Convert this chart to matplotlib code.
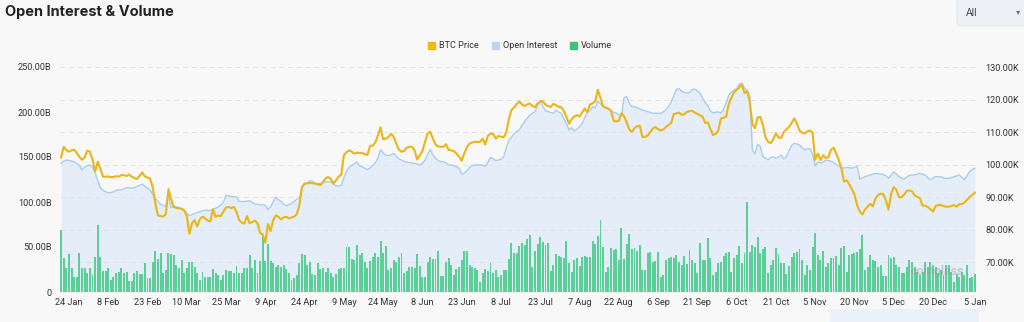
import matplotlib
matplotlib.use("Agg")
import matplotlib.pyplot as plt
import matplotlib.transforms as mtransforms
from matplotlib.patches import Patch, FancyBboxPatch, Rectangle
from matplotlib.lines import Line2D
from matplotlib.ticker import FuncFormatter, FixedLocator
import pandas as pd

# ---- data (daily, from 21 Jan 2025) ----
start_date = "2025-01-21"

# BTC price, thousands of USD
btc_price_k = [
    102.2, 105.5, 104.5, 104.0, 104.4, 104.6, 103.6, 102.4, 101.5, 102.2,
    104.3, 104.0, 101.6, 97.9, 100.9, 98.8, 96.3, 96.3, 96.4, 96.2,
    96.2, 96.5, 96.3, 96.8, 96.8, 96.5, 97.0, 96.3, 95.9, 95.6,
    96.6, 97.6, 96.4, 96.0, 95.8, 93.0, 88.0, 84.4, 84.2, 84.1,
    84.8, 92.5, 89.5, 87.0, 86.7, 86.6, 86.5, 86.0, 84.2, 78.8,
    82.0, 83.0, 81.0, 83.3, 84.0, 83.5, 82.8, 82.6, 86.3, 84.0,
    84.4, 84.2, 85.6, 86.9, 87.0, 86.7, 87.0, 85.5, 83.0, 82.2,
    81.9, 84.2, 82.0, 82.4, 82.8, 82.0, 79.0, 78.6, 76.0, 81.8,
    79.6, 83.0, 84.4, 84.0, 83.2, 83.8, 84.0, 83.5, 83.8, 84.0,
    84.8, 87.5, 93.0, 94.2, 94.3, 94.4, 94.3, 94.2, 94.0, 93.7,
    94.6, 95.8, 96.2, 95.6, 94.2, 95.2, 96.3, 96.9, 102.9, 103.8,
    104.4, 104.0, 103.4, 103.7, 103.6, 103.6, 103.2, 103.0, 105.8, 105.8,
    106.8, 109.0, 111.5, 107.8, 108.0, 108.5, 109.5, 108.6, 106.5, 104.6,
    104.0, 104.2, 105.2, 105.5, 105.5, 104.4, 101.6, 102.8, 104.2, 107.0,
    109.6, 110.1, 108.0, 106.2, 105.6, 105.5, 105.5, 106.3, 104.5, 104.4,
    104.2, 103.4, 102.5, 101.2, 103.5, 105.3, 106.5, 106.8, 107.0, 107.0,
    107.0, 108.0, 106.2, 108.9, 109.5, 109.5, 108.0, 108.8, 108.6, 108.4,
    109.8, 114.0, 116.8, 117.6, 118.6, 119.4, 118.5, 118.0, 118.5, 118.8,
    118.0, 117.7, 118.8, 119.4, 119.5, 118.4, 118.0, 117.7, 118.7, 118.3,
    117.7, 117.7, 116.5, 114.7, 112.6, 114.0, 114.8, 115.2, 114.8, 116.0,
    117.2, 116.2, 118.5, 118.8, 119.5, 123.0, 120.5, 118.0, 117.5, 117.2,
    116.6, 113.5, 113.3, 113.5, 115.8, 114.9, 113.0, 110.8, 110.1, 111.2,
    111.8, 112.0, 108.5, 108.5, 108.9, 110.0, 111.1, 111.6, 110.9, 110.5,
    110.8, 111.6, 112.2, 112.8, 115.6, 115.7, 116.0, 115.3, 115.5, 116.2,
    116.4, 116.6, 116.0, 115.6, 115.2, 114.7, 112.8, 113.0, 111.0, 109.1,
    109.5, 110.5, 114.2, 114.4, 114.7, 118.7, 120.5, 122.3, 122.9, 123.8,
    124.6, 122.0, 122.6, 119.5, 112.5, 111.2, 114.5, 114.7, 112.3, 108.5,
    107.0, 106.6, 107.8, 109.7, 108.3, 108.2, 110.0, 110.8, 111.6, 112.8,
    114.2, 112.7, 110.5, 109.8, 109.6, 110.2, 110.5, 109.8, 101.5, 103.4,
    101.4, 102.9, 102.1, 102.2, 104.6, 105.2, 103.6, 101.4, 98.9, 94.8,
    95.2, 94.0, 92.5, 90.8, 87.6, 85.7, 84.7, 86.2, 87.1, 88.0,
    87.2, 89.5, 90.7, 91.1, 91.0, 89.0, 86.2, 91.0, 93.1, 92.3,
    90.0, 90.0, 90.8, 92.0, 92.1, 91.8, 90.6, 90.1, 89.7, 87.4,
    87.4, 87.0, 86.3, 85.6, 87.3, 87.6, 87.6, 87.3, 87.1, 87.1,
    87.3, 87.6, 87.1, 87.9, 87.9, 88.4, 89.2, 90.1, 90.7, 91.4,
]

# Open interest, billions of USD
open_interest_b = [
    143.0, 145.5, 146.7, 146.0, 145.5, 144.2, 143.0, 140.5, 135.5, 138.5,
    140.5, 141.0, 139.0, 132.0, 124.0, 115.8, 113.0, 111.5, 110.0, 110.5,
    111.2, 113.0, 113.5, 113.4, 114.5, 116.0, 115.8, 115.3, 116.0, 117.2,
    118.5, 119.8, 117.5, 115.5, 113.4, 108.5, 104.0, 100.5, 97.5, 96.0,
    95.0, 107.0, 93.5, 95.2, 95.0, 93.8, 92.5, 90.0, 87.5, 85.0,
    86.0, 87.3, 88.3, 89.2, 90.0, 91.0, 90.8, 90.4, 92.0, 93.0,
    94.5, 96.5, 100.0, 107.5, 106.8, 106.0, 106.0, 105.5, 101.0, 100.4,
    100.4, 100.8, 101.5, 99.5, 98.0, 97.5, 96.7, 96.7, 96.5, 91.5,
    94.5, 100.0, 105.5, 102.5, 100.6, 97.5, 95.8, 97.0, 98.5, 100.5,
    103.0, 104.0, 117.5, 119.5, 121.0, 123.5, 123.0, 120.5, 120.2, 120.7,
    121.5, 122.5, 122.6, 122.6, 120.0, 117.8, 117.8, 118.5, 127.0, 134.0,
    138.5, 140.5, 142.5, 144.5, 140.0, 139.0, 137.5, 136.0, 138.0, 140.5,
    143.5, 148.5, 158.0, 154.5, 152.0, 151.5, 152.5, 154.0, 151.0, 147.8,
    146.5, 145.2, 144.3, 143.8, 143.4, 143.0, 142.0, 141.2, 143.0, 146.5,
    153.0, 158.5, 152.0, 148.6, 146.0, 145.0, 144.9, 143.5, 141.3, 141.2,
    140.3, 139.2, 137.5, 131.0, 132.0, 134.5, 138.5, 140.5, 141.1, 141.2,
    141.2, 141.0, 139.5, 144.0, 149.7, 148.0, 146.0, 146.8, 147.5, 150.0,
    160.0, 168.5, 172.0, 176.0, 178.3, 180.0, 185.0, 189.3, 193.0, 196.5,
    198.5, 200.4, 207.5, 213.0, 206.0, 201.5, 200.4, 199.5, 198.6, 202.0,
    200.0, 198.6, 193.0, 187.0, 180.0, 182.5, 179.0, 181.0, 183.7, 187.0,
    194.0, 199.5, 201.5, 206.0, 204.5, 212.0, 209.0, 206.0, 205.0, 203.8,
    201.3, 199.8, 198.8, 197.0, 195.0, 216.0, 217.1, 210.0, 206.0, 206.0,
    204.5, 203.5, 202.3, 201.3, 200.4, 199.5, 198.6, 198.6, 198.6, 198.6,
    200.0, 202.5, 206.0, 211.0, 218.0, 225.0, 226.0, 223.0, 222.0, 221.0,
    221.5, 225.0, 225.5, 223.5, 221.0, 215.5, 210.5, 207.0, 201.0, 199.0,
    199.8, 200.0, 199.0, 203.0, 210.0, 219.0, 222.0, 224.5, 226.0, 231.0,
    232.0, 226.5, 224.5, 218.0, 158.0, 153.5, 164.0, 162.0, 151.0, 148.5,
    147.0, 149.5, 150.0, 148.8, 150.0, 152.0, 148.0, 150.0, 157.0, 162.5,
    165.2, 164.5, 163.4, 160.5, 157.8, 159.0, 159.2, 153.5, 140.0, 144.5,
    143.5, 144.0, 146.5, 146.0, 145.2, 144.0, 141.5, 140.0, 137.8, 137.7,
    138.5, 138.2, 137.6, 138.5, 140.0, 125.5, 126.5, 128.0, 129.0, 130.0,
    131.0, 131.9, 131.5, 131.2, 130.6, 129.0, 126.5, 130.0, 133.5, 131.0,
    128.3, 126.5, 125.3, 127.5, 129.8, 130.0, 130.0, 131.0, 131.9, 131.0,
    130.0, 127.0, 124.6, 126.5, 128.2, 128.2, 128.0, 126.6, 126.3, 126.3,
    127.0, 128.0, 129.0, 130.0, 127.5, 124.8, 129.5, 134.0, 136.0, 137.5,
]

# Trading volume, billions of USD
volume_b = [
    68.9, 37.4, 26.3, 42.2, 26.3, 16.3, 16.3, 43.7, 26.3, 26.3,
    20.7, 26.3, 18.9, 39.3, 74.1, 39.3, 23.3, 23.3, 26.3, 13.3,
    17.0, 20.7, 22.6, 27.0, 20.7, 22.6, 12.6, 12.6, 20.7, 23.7,
    19.6, 20.0, 32.6, 15.2, 15.2, 33.0, 45.9, 36.3, 43.0, 20.7,
    24.4, 43.7, 41.9, 41.1, 30.0, 26.3, 35.6, 20.7, 26.3, 33.7,
    33.7, 28.1, 20.7, 13.3, 22.6, 17.0, 17.0, 17.0, 25.2, 20.7,
    18.9, 13.3, 18.9, 24.4, 23.3, 23.7, 21.5, 28.9, 21.5, 20.7,
    26.3, 26.3, 41.1, 26.3, 35.6, 21.5, 34.8, 61.5, 34.8, 53.3,
    34.8, 31.9, 28.1, 30.0, 27.4, 30.0, 25.2, 20.7, 13.3, 15.2,
    18.9, 31.9, 41.9, 41.1, 30.0, 33.0, 20.0, 18.9, 31.9, 25.2,
    26.3, 22.0, 26.3, 20.7, 17.0, 20.0, 25.2, 26.3, 26.3, 50.4,
    49.6, 36.3, 35.6, 52.2, 41.1, 43.0, 33.0, 26.3, 34.8, 39.3,
    43.0, 39.3, 57.0, 43.0, 51.1, 24.4, 26.3, 35.6, 33.7, 38.5,
    43.0, 20.7, 23.3, 27.4, 27.4, 26.3, 42.2, 28.9, 17.0, 17.0,
    33.7, 39.3, 36.3, 36.3, 45.9, 18.1, 18.1, 33.7, 38.1, 30.0,
    18.9, 25.2, 28.0, 35.6, 45.9, 45.9, 30.0, 28.1, 26.3, 24.4,
    11.5, 20.7, 25.2, 23.7, 32.6, 20.7, 24.4, 17.0, 18.9, 24.4,
    24.4, 36.3, 54.1, 43.0, 43.0, 51.5, 54.8, 52.2, 58.5, 63.4,
    28.2, 45.6, 53.0, 60.8, 56.0, 52.2, 54.1, 23.4, 30.0, 41.9,
    40.0, 39.3, 37.4, 56.7, 31.9, 22.6, 35.6, 37.4, 29.3, 38.5,
    40.0, 39.3, 38.5, 56.7, 53.0, 62.6, 80.0, 50.4, 22.6, 28.2,
    48.5, 46.7, 47.8, 35.6, 70.8, 36.3, 53.0, 64.1, 47.8, 48.5,
    45.6, 52.2, 24.5, 24.5, 43.0, 44.1, 33.7, 34.8, 44.8, 17.1,
    18.9, 35.6, 37.4, 38.5, 38.2, 41.1, 33.7, 30.0, 40.4, 30.8,
    46.7, 35.6, 31.9, 20.8, 54.1, 35.6, 35.6, 59.7, 37.4, 18.9,
    22.6, 31.9, 33.7, 40.0, 43.0, 44.1, 22.6, 37.4, 41.1, 51.5,
    31.9, 43.7, 99.7, 44.1, 52.2, 49.7, 61.5, 43.0, 47.8, 50.4,
    20.8, 30.0, 35.6, 49.3, 41.9, 32.6, 32.6, 19.7, 28.9, 39.3,
    43.0, 44.8, 47.8, 35.6, 18.9, 30.0, 24.5, 49.7, 65.2, 41.1,
    35.6, 45.6, 28.2, 31.9, 37.4, 38.2, 40.0, 30.0, 49.3, 51.1,
    22.6, 41.1, 41.9, 43.0, 44.1, 47.8, 63.4, 24.5, 28.2, 41.1,
    35.6, 34.5, 28.2, 30.0, 18.2, 18.2, 41.1, 38.2, 39.3, 30.0,
    28.2, 20.8, 20.8, 28.2, 35.6, 33.7, 28.2, 22.6, 18.9, 22.6,
    33.0, 28.2, 33.7, 30.0, 28.2, 20.8, 24.5, 18.9, 30.0, 30.0,
    21.9, 10.8, 19.7, 17.1, 21.9, 18.9, 30.0, 15.2, 17.1, 19.7,
]

# axis ticks
tick_dates = list(pd.date_range("2025-01-24", "2025-12-20", freq="15D")) + [pd.Timestamp("2026-01-05")]
left_ticks = [0, 50, 100, 150, 200, 250]
right_ticks = [70000, 80000, 90000, 100000, 110000, 120000, 130000]

# ---- styling ----
BG = "#f8f8f8"
PRICE_C = "#ecb516"
OI_LINE_C = "#a8cdee"
OI_FILL_C = "#e5eef8"
VOL_C = "#5ccf98"
TXT = "#333333"
FONT = "Roboto"

dates = pd.date_range(start_date, periods=len(btc_price_k), freq="D")
price = [p * 1000 for p in btc_price_k]

fig = plt.figure(figsize=(10.24, 3.22), dpi=100, facecolor=BG)
axv = fig.add_axes([60 / 1024, 30 / 322, 916 / 1024, 225 / 322])
axv.set_facecolor("none")
axp = axv.twinx()

# open interest area + volume bars (left axis)
axv.fill_between(dates, open_interest_b, 0, color=OI_FILL_C, lw=0, zorder=1)
axv.bar(dates, volume_b, width=0.74, color=VOL_C, lw=0, zorder=3)
axv.plot(dates, open_interest_b, color=OI_LINE_C, lw=1.0, zorder=4)

axv.set_ylim(0, 250)
axp.set_ylim(60900, 130000)
axv.set_xlim(dates[0] - pd.Timedelta(hours=10), dates[-1] + pd.Timedelta(hours=10))

# dashed grid at the price ticks, kept under the bars
grid_tr = mtransforms.blended_transform_factory(axv.transAxes, axp.transData)
for v in right_ticks:
    axv.add_line(Line2D([0, 1], [v, v], transform=grid_tr, color="#e3e3e3",
                        lw=0.7, ls=(0, (5, 4)), zorder=2))

# BTC price (right axis)
axp.plot(dates, price, color=PRICE_C, lw=1.5, zorder=5, solid_joinstyle="round")

# ticks and labels
axv.yaxis.set_major_locator(FixedLocator(left_ticks))
axv.yaxis.set_major_formatter(FuncFormatter(lambda v, _: "0" if v == 0 else f"{v:.2f}B"))
axp.yaxis.set_major_locator(FixedLocator(right_ticks))
axp.yaxis.set_major_formatter(FuncFormatter(lambda v, _: f"{v / 1000:.2f}K"))
axv.set_xticks(tick_dates)
axv.set_xticklabels([f"{d.day} {d.strftime('%b')}" for d in tick_dates])

for ax in (axv, axp):
    for s in ax.spines.values():
        s.set_visible(False)
    ax.tick_params(length=0, labelsize=6.6, labelcolor=TXT)
    for lab in ax.get_xticklabels() + ax.get_yticklabels():
        lab.set_fontfamily(FONT)
axv.tick_params(axis="y", pad=6)
axp.tick_params(axis="y", pad=7)
axv.tick_params(axis="x", pad=4)

# title
fig.text(5 / 1024, 1 - 12 / 322, "Open Interest & Volume", fontsize=10.5,
         fontweight="bold", color="#222222", family="Inter", va="center", ha="left")

# legend
handles = [Patch(color="#f0b90b", label="BTC Price"),
           Patch(color="#bcd6f2", label="Open Interest"),
           Patch(color="#3fc27a", label="Volume")]
fig.legend(handles=handles, loc="center", bbox_to_anchor=(0.508, 1 - 46 / 322), ncol=3,
           frameon=False, prop={"family": FONT, "size": 6.6}, labelcolor=TXT,
           handlelength=0.75, handleheight=0.75, handletextpad=0.45, columnspacing=1.4)

# range selector in the top-right corner
px = mtransforms.IdentityTransform()
fig.patches.append(FancyBboxPatch((957, 322 - 26), 90, 40,
                                  boxstyle="round,pad=0,rounding_size=5",
                                  transform=px, facecolor="#edf1f5",
                                  edgecolor="#e3e8ee", lw=0.8, figure=fig))
fig.text(966 / 1024, 1 - 13 / 322, "All", fontsize=7.5, color="#444444",
         family=FONT, va="center", ha="left")
fig.text(1018 / 1024, 1 - 12 / 322, "▾", fontsize=6, color="#777777",
         family="DejaVu Sans", va="center", ha="center")

# zoom slider peeking in at the bottom right
fig.patches.append(Rectangle((830, 0), 149, 13, transform=px,
                             facecolor="#eaf1f9", edgecolor="none", figure=fig))

# watermark
fig.text(937 / 1024, 1 - 272 / 322, "coinglass", fontsize=9, color="#9a9a9a",
         alpha=0.45, family=FONT, fontweight="bold", va="center", ha="center")

fig.savefig("out.png", dpi=100, facecolor=BG)
